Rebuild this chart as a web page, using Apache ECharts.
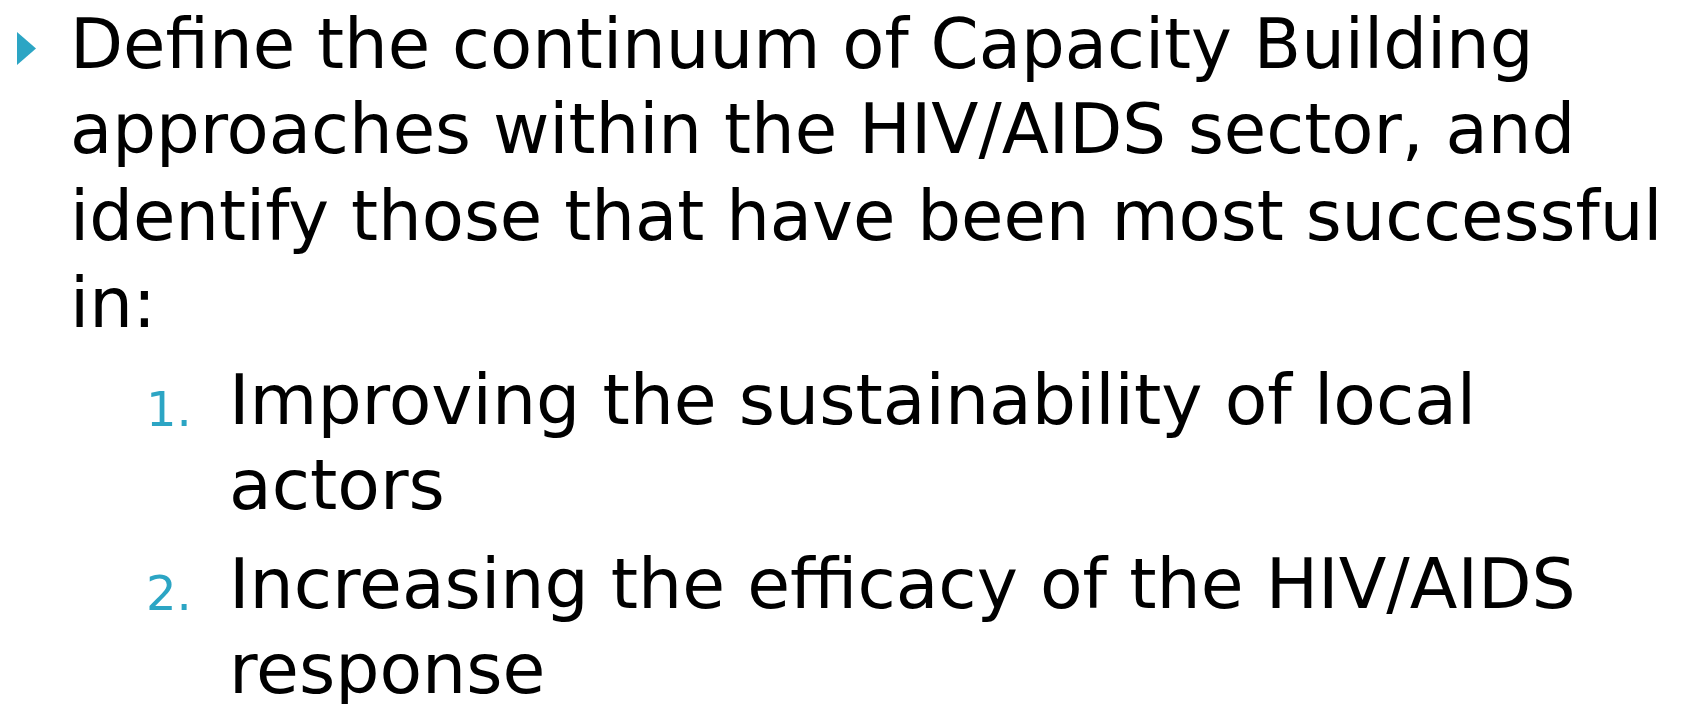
<!DOCTYPE html>
<html>
<head>
<meta charset="utf-8">
<script src="https://cdn.jsdelivr.net/npm/echarts@6/dist/echarts.min.js"></script>
<style>
html,body{margin:0;padding:0;background:#fff;}
#main{width:1681px;height:704px;}
</style>
</head>
<body>
<div id="main"></div>
<script>
// Slide content
const bodyLines = [
  "Define the continuum of Capacity Building",
  "approaches within the HIV/AIDS sector, and",
  "identify those that have been most successful",
  "in:"
];
const listNumbers = ["1.", "2."];
const listItems = [
  ["Improving the sustainability of local", "actors"],
  ["Increasing the efficacy of the HIV/AIDS", "response"]
];

const accent = '#2ca5c4';
const FONT = '"DejaVu Sans", Verdana, sans-serif';
const mainSize = 70, numSize = 48;
const bodyBaselines = [67, 152, 239, 326];
const itemBaselines = [[423, 508], [607, 692]];

const els = [];
els.push({
  type: 'polygon',
  shape: { points: [[17, 32], [17, 65], [36, 48.5]] },
  style: { fill: accent }
});
// place text so its alphabetic baseline lands on the target
function addText(str, x, baseline, size, color, scale) {
  els.push({
    type: 'text',
    x: x, y: baseline - 0.346 * size + 7.5,
    scaleX: scale,
    style: {
      text: str, x: 0, y: 0,
      font: 'normal ' + size + 'px ' + FONT,
      fill: color, align: 'left', verticalAlign: 'middle'
    }
  });
}
bodyLines.forEach((t, i) => addText(t, 70, bodyBaselines[i], mainSize, '#000', 0.985));
listItems.forEach((lines, k) => {
  addText(listNumbers[k], 146, itemBaselines[k][0], numSize, accent, 1.0);
  lines.forEach((t, j) => addText(t, 229, itemBaselines[k][j], mainSize, '#000', 0.995));
});

const chart = echarts.init(document.getElementById('main'), null, { renderer: 'canvas' });
chart.setOption({
  backgroundColor: '#ffffff',
  animation: false,
  graphic: { elements: els }
});
</script>
</body>
</html>
